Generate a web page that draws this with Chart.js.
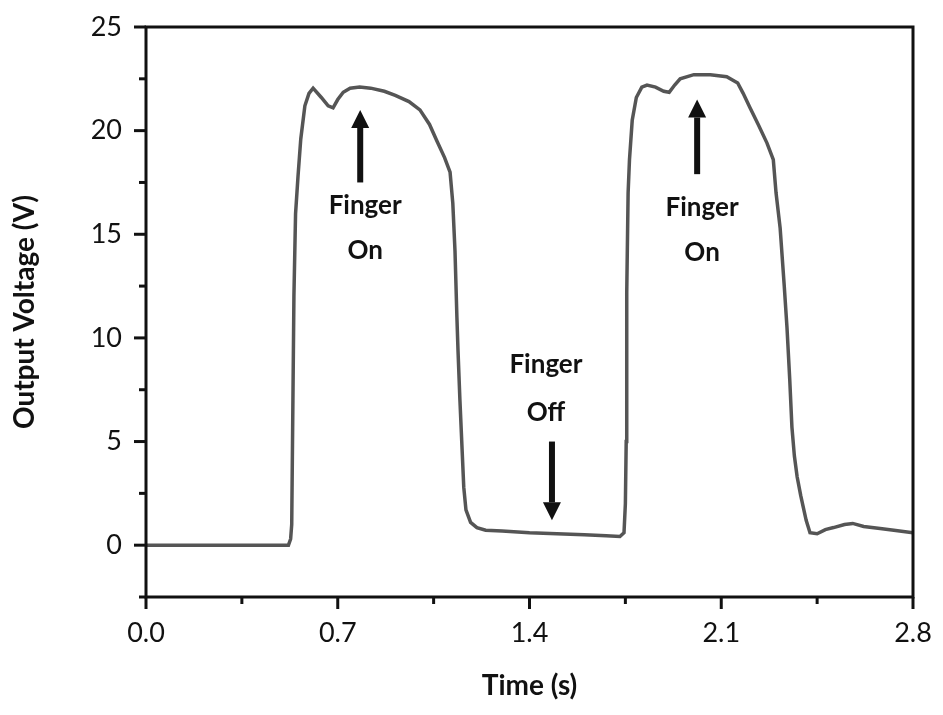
<!DOCTYPE html>
<html>
<head>
<meta charset="utf-8">
<script src="https://cdn.jsdelivr.net/npm/chart.js@4.4.1/dist/chart.umd.min.js"></script>
<style>
  html, body { margin: 0; padding: 0; background: #fff; }
  #wrap { width: 943px; height: 715px; }
</style>
</head>
<body>
<div id="wrap"><canvas id="graphique"></canvas></div>
<script>
// ---------------- donnees ----------------
const timeS = [0, 0.3, 0.52, 0.528, 0.532, 0.54, 0.546, 0.555, 0.565, 0.58, 0.595, 0.61, 0.64, 0.665, 0.683,
  0.70, 0.72, 0.745, 0.78, 0.82, 0.87, 0.91, 0.96, 1.0, 1.035, 1.062, 1.09, 1.11, 1.12, 1.128, 1.135,
  1.139, 1.146, 1.154, 1.16, 1.168, 1.185, 1.208, 1.24, 1.3, 1.4, 1.5, 1.6, 1.68, 1.73, 1.745, 1.75,
  1.753, 1.755, 1.76, 1.765, 1.775, 1.79, 1.81, 1.829, 1.86, 1.89, 1.91, 1.93, 1.95, 2.0, 2.06, 2.12,
  2.16, 2.18, 2.205, 2.235, 2.267, 2.29, 2.3, 2.315, 2.33, 2.34, 2.35, 2.358, 2.367, 2.377, 2.39, 2.40,
  2.41, 2.424, 2.45, 2.48, 2.51, 2.55, 2.58, 2.62, 2.68, 2.73, 2.8];
const voltageV = [0, 0, 0, 0.3, 1, 12, 16, 17.8, 19.6, 21.2, 21.8, 22.05, 21.6, 21.2, 21.1,
  21.5, 21.85, 22.05, 22.1, 22.05, 21.9, 21.7, 21.4, 21.0, 20.3, 19.5, 18.7, 18.0, 16.5, 14.2, 11,
  9.4, 7, 4.6, 2.8, 1.7, 1.1, 0.85, 0.72, 0.68, 0.6, 0.55, 0.5, 0.45, 0.42, 0.6, 2,
  5, 12.2, 17, 18.6, 20.5, 21.6, 22.1, 22.2, 22.1, 21.9, 21.85, 22.2, 22.5, 22.7, 22.7, 22.6,
  22.3, 21.8, 21.1, 20.3, 19.4, 18.6, 17, 15.3, 12.5, 10.5, 8, 5.7, 4.3, 3.3, 2.4, 1.8,
  1.2, 0.6, 0.55, 0.75, 0.85, 1.0, 1.05, 0.9, 0.8, 0.72, 0.6];

const xTickStep = 0.35;   // ticks mineurs, labels tous les 0.7
const yTickStep = 2.5;    // ticks mineurs, labels tous les 5

// annotations (en unites des axes)
const noteX = [0.80, 1.46, 2.03];
const noteLines = [['Finger', 'On'], ['Finger', 'Off'], ['Finger', 'On']];
const noteLineY = [[16.4, 14.2], [8.7, 6.4], [16.3, 14.1]];
const arrowX = [0.782, 1.482, 2.012];
const arrowTail = [17.5, 5.0, 17.9];
const arrowTip = [21.0, 1.2, 21.5];

// ---------------- plugin : cadre, ticks, fleches ----------------
function isMultiple(v, step) {
  return Math.abs(v / step - Math.round(v / step)) < 1e-6;
}

const decorPlugin = {
  id: 'decor',
  afterDraw(chart) {
    const ctx = chart.ctx;
    const area = chart.chartArea;
    const xs = chart.scales.x, ys = chart.scales.y;
    ctx.save();
    // cadre complet
    ctx.strokeStyle = '#111';
    ctx.lineWidth = 3;
    ctx.strokeRect(area.left, area.top, area.right - area.left, area.bottom - area.top);

    // ticks exterieurs
    ctx.lineWidth = 3;
    xs.ticks.forEach(t => {
      const px = xs.getPixelForValue(t.value);
      const len = isMultiple(t.value, 0.7) ? 12 : 7;
      ctx.beginPath();
      ctx.moveTo(px, area.bottom);
      ctx.lineTo(px, area.bottom + len);
      ctx.stroke();
    });
    ys.ticks.forEach(t => {
      const py = ys.getPixelForValue(t.value);
      const len = isMultiple(t.value, 5) ? 12 : 7;
      ctx.beginPath();
      ctx.moveTo(area.left, py);
      ctx.lineTo(area.left - len, py);
      ctx.stroke();
    });

    // fleches
    ctx.fillStyle = '#111';
    ctx.strokeStyle = '#111';
    for (let i = 0; i < arrowX.length; i++) {
      const px = xs.getPixelForValue(arrowX[i]);
      const yTail = ys.getPixelForValue(arrowTail[i]);
      const yTip = ys.getPixelForValue(arrowTip[i]);
      const dir = yTip < yTail ? -1 : 1;
      const headLen = 18;
      ctx.lineWidth = 6;
      ctx.beginPath();
      ctx.moveTo(px, yTail);
      ctx.lineTo(px, yTip - dir * headLen);
      ctx.stroke();
      ctx.beginPath();
      ctx.moveTo(px, yTip);
      ctx.lineTo(px - 9, yTip - dir * headLen);
      ctx.lineTo(px + 9, yTip - dir * headLen);
      ctx.closePath();
      ctx.fill();
    }

    // textes
    ctx.font = 'bold 26px Lato, "Open Sans", sans-serif';
    ctx.textAlign = 'center';
    ctx.textBaseline = 'middle';
    for (let i = 0; i < noteX.length; i++) {
      const px = xs.getPixelForValue(noteX[i]);
      noteLines[i].forEach((txt, j) => {
        ctx.fillText(txt, px, ys.getPixelForValue(noteLineY[i][j]));
      });
    }
    ctx.restore();
  }
};

// ---------------- graphique ----------------
function afficherGraphique() {
  const points = timeS.map((t, i) => ({ x: t, y: voltageV[i] }));
  new Chart(document.getElementById('graphique'), {
    type: 'line',
    data: {
      datasets: [{
        data: points,
        borderColor: '#555',
        borderWidth: 3.5,
        pointRadius: 0,
        tension: 0,
        fill: false
      }]
    },
    options: {
      responsive: true,
      maintainAspectRatio: false,
      animation: false,
      layout: { padding: { top: 27, right: 30, left: 0, bottom: 0 } },
      plugins: {
        legend: { display: false },
        tooltip: { enabled: false }
      },
      scales: {
        x: {
          type: 'linear',
          min: 0,
          max: 2.8,
          afterFit: scale => {
            scale.height = 118;
            scale.paddingLeft = 0;
            scale.paddingRight = 0;
          },
          grid: { display: false, drawTicks: false },
          border: { display: false },
          ticks: {
            stepSize: xTickStep,
            padding: 20,
            color: '#111',
            maxRotation: 0,
            autoSkip: false,
            font: { family: 'Lato, "Open Sans", sans-serif', size: 27 },
            callback: v => isMultiple(v, 0.7) ? v.toFixed(1) : ''
          },
          title: {
            display: true,
            text: 'Time (s)',
            color: '#111',
            padding: { top: 0, bottom: 12 },
            font: { family: 'Lato, "Open Sans", sans-serif', size: 28, weight: 'bold' }
          }
        },
        y: {
          min: -2.5,
          max: 25,
          afterFit: scale => {
            scale.width = 146;
            scale.paddingTop = 0;
            scale.paddingBottom = 0;
          },
          grid: { display: false, drawTicks: false },
          border: { display: false },
          ticks: {
            stepSize: yTickStep,
            padding: 24,
            color: '#111',
            autoSkip: false,
            font: { family: 'Lato, "Open Sans", sans-serif', size: 27 },
            callback: v => isMultiple(v, 5) && v >= 0 ? String(Math.round(v)) : ''
          },
          title: {
            display: true,
            text: 'Output Voltage (V)',
            color: '#111',
            padding: { top: 8, bottom: 0 },
            font: { family: 'Lato, "Open Sans", sans-serif', size: 28, weight: 'bold' }
          }
        }
      }
    },
    plugins: [decorPlugin]
  });
}

afficherGraphique();
</script>
</body>
</html>
